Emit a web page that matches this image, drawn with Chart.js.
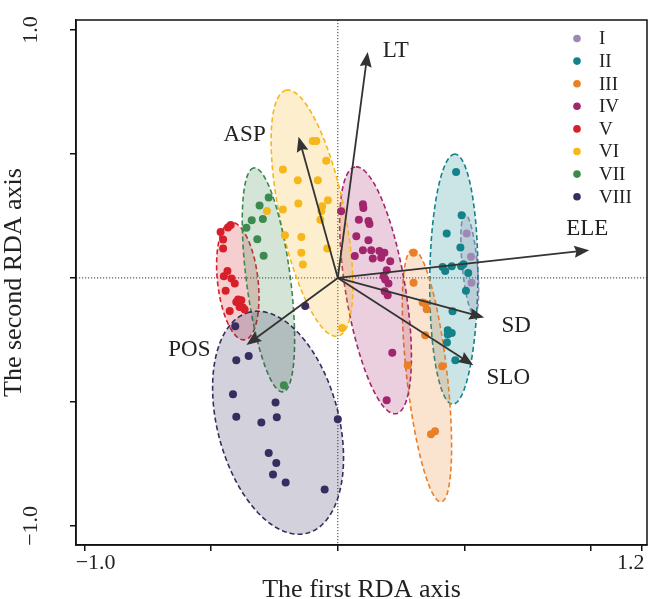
<!DOCTYPE html>
<html><head><meta charset="utf-8">
<script src="https://cdn.jsdelivr.net/npm/chart.js@4.4.0/dist/chart.umd.min.js"></script>
<style>html,body{margin:0;padding:0;background:#fff;}#wrap{width:651px;height:599px;}</style>
</head><body><div id="wrap"><canvas id="c" width="651" height="599"></canvas></div>
<script>
// ---------- categories ----------
const groups = ['I','II','III','IV','V','VI','VII','VIII'];
const groupColors = ['#9d88b6','#138389','#ea7f26','#a2266c','#d71f2b','#f6b71c','#3c8a4f','#372d5f'];

// ---------- site scores (RDA1, RDA2) ----------
const I_x = [0.509,0.526,0.528];
const I_y = [0.179,0.085,-0.020];
const II_x = [0.467,0.489,0.430,0.484,0.414,0.424,0.450,0.487,0.496,0.515,0.506,0.453,0.434,0.450,0.434,0.431,0.464];
const II_y = [0.427,0.253,0.179,0.123,0.044,0.028,0.047,0.047,0.055,0.020,-0.052,-0.134,-0.211,-0.222,-0.228,-0.260,-0.332];
const III_x = [0.299,0.299,0.335,0.346,0.351,0.345,0.276,0.412,0.368,0.384];
const III_y = [0.101,-0.020,-0.099,-0.103,-0.126,-0.231,-0.352,-0.356,-0.630,-0.618];
const IV_x = [0.013,0.099,0.101,0.083,0.121,0.125,0.073,0.121,0.099,0.132,0.164,0.184,0.067,0.138,0.171,0.207,0.193,0.181,0.187,0.200,0.185,0.197,0.215,0.193];
const IV_y = [0.269,0.297,0.282,0.235,0.229,0.217,0.168,0.152,0.112,0.112,0.109,0.101,0.088,0.078,0.081,0.067,0.031,0.007,-0.006,-0.023,-0.054,-0.070,-0.302,-0.493];
const V_x = [-0.423,-0.434,-0.463,-0.453,-0.453,-0.436,-0.450,-0.420,-0.407,-0.443,-0.394,-0.401,-0.381,-0.388,-0.375,-0.427,-0.368];
const V_y = [0.213,0.203,0.185,0.155,0.119,0.028,0.007,-0.002,-0.023,-0.052,-0.087,-0.097,-0.090,-0.117,-0.119,-0.133,-0.127];
const VI_x = [-0.099,-0.085,-0.046,-0.217,-0.158,-0.079,-0.156,-0.217,-0.039,-0.062,-0.065,-0.069,-0.280,-0.209,-0.144,-0.042,-0.144,-0.138,0.017];
const VI_y = [0.552,0.552,0.472,0.437,0.394,0.394,0.300,0.276,0.313,0.289,0.270,0.235,0.270,0.172,0.165,0.119,0.101,0.054,-0.202];
const VII_x = [-0.273,-0.309,-0.340,-0.296,-0.361,-0.318,-0.293,-0.213];
const VII_y = [0.324,0.292,0.233,0.238,0.202,0.156,0.089,-0.433];
const VIII_x = [-0.129,-0.405,-0.401,-0.352,-0.414,-0.246,-0.401,-0.302,-0.241,0.000,-0.273,-0.243,-0.256,-0.206,-0.052];
const VIII_y = [-0.113,-0.195,-0.332,-0.315,-0.469,-0.502,-0.560,-0.583,-0.562,-0.570,-0.706,-0.746,-0.793,-0.825,-0.853];
const groupX = [I_x,II_x,III_x,IV_x,V_x,VI_x,VII_x,VIII_x];
const groupY = [I_y,II_y,III_y,IV_y,V_y,VI_y,VII_y,VIII_y];

// ---------- group ellipses (centre, semi-axes, angle in degrees) ----------
const ellCx    = [0.521, 0.458, 0.352, 0.149,-0.395,-0.102,-0.274,-0.236];
const ellCy    = [0.053,-0.005,-0.394,-0.050,-0.013, 0.261,-0.008,-0.584];
const ellA     = [0.204, 0.504, 0.512, 0.504, 0.238, 0.506, 0.455, 0.460];
const ellB     = [0.030, 0.095, 0.080, 0.118, 0.080, 0.128, 0.087, 0.240];
const ellAngle = [95.2, 89.5, 96.3, 99.2, 96.3, 101.6, 97.2, 104.2];

// ---------- environmental vectors ----------
const envVars = ['LT','ASP','ELE','SD','SLO','POS'];
const envX = [0.118,-0.155,0.993,0.578,0.535,-0.361];
const envY = [0.911,0.569,0.112,-0.160,-0.352,-0.271];

// ---------- axes ----------
const xTicks = [-1.0,-0.5,0,0.5,1.0,1.2];
const xTickLabels = ['\u2003\u22121.0','','','','','1.2\u2003'];
const yTicks = [-1.0,-0.5,0,0.5,1.0];
const yTickLabels = ['\u22121.0','','','','1.0'];
const xTitle = 'The first RDA axis';
const yTitle = 'The second RDA axis';

// ---------- style / layout (not data) ----------
const FONT = '"Liberation Serif","Times New Roman",serif';
const envLabelOffset = [[28,-1],[-54,-2],[-2,-21],[32,8],[35,13],[-57,5]]; // px from arrow tip
const fillAlpha = 0.22;

function hexA(h,a){const n=parseInt(h.slice(1),16);return `rgba(${(n>>16)&255},${(n>>8)&255},${n&255},${a})`;}

const rdaPlugin = {
  id:'rda',
  beforeDatasetsDraw(chart){
    const {ctx, chartArea:ca, scales:{x,y}} = chart;
    ctx.save();
    ctx.beginPath(); ctx.rect(ca.left,ca.top,ca.right-ca.left,ca.bottom-ca.top); ctx.clip();
    const x0=x.getPixelForValue(0), y0=y.getPixelForValue(0);
    ctx.setLineDash([1.2,1.8]); ctx.strokeStyle='#333'; ctx.lineWidth=1;
    ctx.beginPath(); ctx.moveTo(x0,ca.top); ctx.lineTo(x0,ca.bottom); ctx.stroke();
    ctx.beginPath(); ctx.moveTo(ca.left,y0); ctx.lineTo(ca.right,y0); ctx.stroke();
    for(let g=0; g<groups.length; g++){
      const th = ellAngle[g]*Math.PI/180, c=Math.cos(th), s=Math.sin(th);
      ctx.beginPath();
      for(let k=0;k<=180;k++){
        const t=k/180*2*Math.PI;
        const dx=ellA[g]*Math.cos(t), dy=ellB[g]*Math.sin(t);
        const px=x.getPixelForValue(ellCx[g]+dx*c-dy*s);
        const py=y.getPixelForValue(ellCy[g]+dx*s+dy*c);
        if(k===0) ctx.moveTo(px,py); else ctx.lineTo(px,py);
      }
      ctx.closePath();
      ctx.setLineDash([]);
      ctx.fillStyle=hexA(groupColors[g],fillAlpha); ctx.fill();
      ctx.setLineDash([5,3]); ctx.lineWidth=1.6; ctx.strokeStyle=groupColors[g]; ctx.stroke();
    }
    ctx.restore();
  },
  afterDatasetsDraw(chart){
    const {ctx, chartArea:ca, scales:{x,y}} = chart;
    ctx.save();
    const x0=x.getPixelForValue(0), y0=y.getPixelForValue(0);
    ctx.strokeStyle='#333'; ctx.fillStyle='#333'; ctx.lineWidth=1.8; ctx.setLineDash([]);
    for(let i=0;i<envVars.length;i++){
      const tx=x.getPixelForValue(envX[i]), ty=y.getPixelForValue(envY[i]);
      const ang=Math.atan2(ty-y0,tx-x0), L=15, W=6;
      const bx=tx-L*Math.cos(ang), by=ty-L*Math.sin(ang);
      ctx.beginPath(); ctx.moveTo(x0,y0); ctx.lineTo(bx+3*Math.cos(ang),by+3*Math.sin(ang)); ctx.stroke();
      ctx.beginPath(); ctx.moveTo(tx,ty);
      ctx.lineTo(bx-W*Math.sin(ang), by+W*Math.cos(ang));
      ctx.lineTo(bx+2*Math.cos(ang), by+2*Math.sin(ang));
      ctx.lineTo(bx+W*Math.sin(ang), by-W*Math.cos(ang));
      ctx.closePath(); ctx.fill();
      ctx.font='23px '+FONT; ctx.textAlign='center'; ctx.textBaseline='middle'; ctx.fillStyle='#222';
      ctx.fillText(envVars[i], tx+envLabelOffset[i][0], ty+envLabelOffset[i][1]);
      ctx.fillStyle='#333';
    }
    ctx.strokeStyle='#111'; ctx.lineWidth=1.5;
    ctx.strokeRect(ca.left,ca.top,ca.right-ca.left,ca.bottom-ca.top);
    ctx.font='19px '+FONT; ctx.textAlign='left'; ctx.textBaseline='middle';
    for(let g=0; g<groups.length; g++){
      const ly = ca.top + 18.5 + g*22.6, lx = ca.right - 70;
      ctx.fillStyle=groupColors[g]; ctx.beginPath(); ctx.arc(lx,ly,3.8,0,2*Math.PI); ctx.fill();
      ctx.fillStyle='#222'; ctx.fillText(groups[g], lx+22, ly+1);
    }
    ctx.restore();
  }
};

const datasets = groups.map((g,i)=>({
  label:g,
  data: groupX[i].map((v,k)=>({x:v,y:groupY[i][k]})),
  backgroundColor: groupColors[i], borderColor: groupColors[i],
  pointRadius:4, pointBorderWidth:0, showLine:false
}));

new Chart(document.getElementById('c'),{
  type:'scatter',
  data:{datasets},
  plugins:[rdaPlugin],
  options:{
    responsive:false, animation:false, devicePixelRatio:1, events:[],
    layout:{padding:{top:20,right:3,left:0,bottom:0}},
    plugins:{legend:{display:false},tooltip:{enabled:false}},
    scales:{
      x:{type:'linear', min:-1.034, max:1.221,
        afterBuildTicks(s){ s.ticks = xTicks.map(v=>({value:v})); },
        afterFit(s){ s.height=54; s.paddingLeft=0; s.paddingRight=0; },
        ticks:{align:'center', autoSkip:false, maxRotation:0, padding:-1, color:'#222', font:{family:FONT,size:22},
          callback(v){ const i=xTicks.indexOf(v); return i>=0?xTickLabels[i]:''; }},
        grid:{drawOnChartArea:false, drawTicks:true, tickLength:6, color:'#111', lineWidth:1.5},
        border:{display:true,color:'#111',width:1.5},
        title:{display:true,text:xTitle,color:'#222',font:{family:FONT,size:26,lineHeight:0.8},padding:{top:0,bottom:-2}}
      },
      y:{type:'linear', min:-1.077, max:1.04,
        afterBuildTicks(s){ s.ticks = yTicks.map(v=>({value:v})); },
        afterFit(s){ s.width=76; s.paddingTop=0; s.paddingBottom=0; },
        ticks:{autoSkip:false, minRotation:90, maxRotation:90, crossAlign:'center', padding:19, color:'#222', font:{family:FONT,size:22},
          callback(v){ const i=yTicks.indexOf(v); return i>=0?yTickLabels[i]:''; }},
        grid:{drawOnChartArea:false, drawTicks:true, tickLength:6, color:'#111', lineWidth:1.5},
        border:{display:true,color:'#111',width:1.5},
        title:{display:true,text:yTitle,color:'#222',font:{family:FONT,size:26,lineHeight:0.8},padding:{top:4,bottom:0}}
      }
    }
  }
});
</script></body></html>
